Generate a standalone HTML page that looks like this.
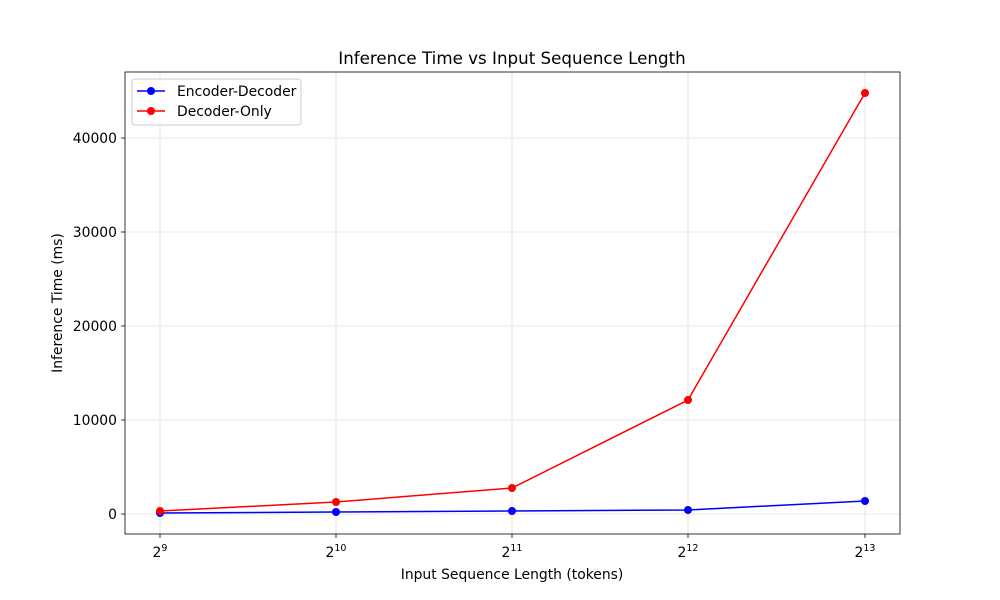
<!DOCTYPE html>
<html><head><style>body{margin:0;background:#fff}svg{display:block}text{font-family:"DejaVu Sans","Liberation Sans",sans-serif;fill:#000}</style></head>
<body>
<svg width="1000" height="600" viewBox="0 0 1000 600">
<rect width="1000" height="600" fill="#fff"/>
<g stroke="#e0e0e0" stroke-width="0.8">
<line x1="160" y1="72" x2="160" y2="534"/><line x1="336" y1="72" x2="336" y2="534"/><line x1="512" y1="72" x2="512" y2="534"/><line x1="688" y1="72" x2="688" y2="534"/><line x1="865" y1="72" x2="865" y2="534"/>
<line x1="125" y1="514" x2="900" y2="514"/><line x1="125" y1="420" x2="900" y2="420"/><line x1="125" y1="326" x2="900" y2="326"/><line x1="125" y1="232" x2="900" y2="232"/><line x1="125" y1="138" x2="900" y2="138"/>
</g>
<rect x="125" y="72" width="775" height="462" fill="none" stroke="#000" stroke-width="0.8"/>
<g stroke="#000" stroke-width="0.8">
<line x1="160" y1="534" x2="160" y2="538"/><line x1="336" y1="534" x2="336" y2="538"/><line x1="512" y1="534" x2="512" y2="538"/><line x1="688" y1="534" x2="688" y2="538"/><line x1="865" y1="534" x2="865" y2="538"/>
<line x1="121" y1="514" x2="125" y2="514"/><line x1="121" y1="420" x2="125" y2="420"/><line x1="121" y1="326" x2="125" y2="326"/><line x1="121" y1="232" x2="125" y2="232"/><line x1="121" y1="138" x2="125" y2="138"/>
</g>
<g font-size="13.9" text-anchor="middle">
<text x="160" y="557">2<tspan font-size="9.5" dy="-6">9</tspan></text>
<text x="336" y="557">2<tspan font-size="9.5" dy="-6">10</tspan></text>
<text x="512" y="557">2<tspan font-size="9.5" dy="-6">11</tspan></text>
<text x="688" y="557">2<tspan font-size="9.5" dy="-6">12</tspan></text>
<text x="865" y="557">2<tspan font-size="9.5" dy="-6">13</tspan></text>
</g>
<g font-size="13.9" text-anchor="end">
<text x="117" y="519">0</text><text x="117" y="425">10000</text><text x="117" y="331">20000</text><text x="117" y="237">30000</text><text x="117" y="143">40000</text>
</g>
<text x="512" y="579" font-size="13.9" text-anchor="middle">Input Sequence Length (tokens)</text>
<text x="62" y="303" font-size="13.9" text-anchor="middle" transform="rotate(-90 62 303)">Inference Time (ms)</text>
<text x="512" y="64" font-size="16.7" text-anchor="middle">Inference Time vs Input Sequence Length</text>
<polyline points="160,513 336,512 512,511 688,510 865,501" fill="none" stroke="#0000ff" stroke-width="1.5"/>
<g fill="#0000ff"><circle cx="160" cy="513" r="4"/><circle cx="336" cy="512" r="4"/><circle cx="512" cy="511" r="4"/><circle cx="688" cy="510" r="4"/><circle cx="865" cy="501" r="4"/></g>
<polyline points="160,511 336,502 512,488 688,400 865,93" fill="none" stroke="#ff0000" stroke-width="1.5"/>
<g fill="#ff0000"><circle cx="160" cy="511" r="4"/><circle cx="336" cy="502" r="4"/><circle cx="512" cy="488" r="4"/><circle cx="688" cy="400" r="4"/><circle cx="865" cy="93" r="4"/></g>
<rect x="132" y="79" width="169" height="46" rx="3" fill="#fff" fill-opacity="0.8" stroke="#ccc"/>
<line x1="137" y1="91" x2="165" y2="91" stroke="#0000ff" stroke-width="1.5"/><circle cx="151" cy="91" r="4" fill="#0000ff"/>
<line x1="137" y1="111" x2="165" y2="111" stroke="#ff0000" stroke-width="1.5"/><circle cx="151" cy="111" r="4" fill="#ff0000"/>
<text x="177" y="96" font-size="13.9">Encoder-Decoder</text>
<text x="177" y="116" font-size="13.9">Decoder-Only</text>
</svg>
</body></html>
